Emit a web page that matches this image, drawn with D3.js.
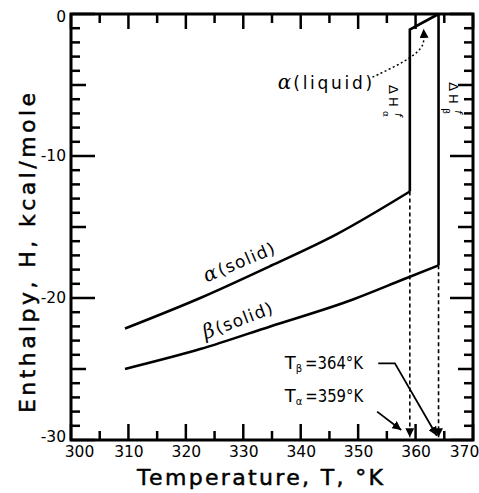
<!DOCTYPE html>
<html><head><meta charset="utf-8">
<script src="https://cdn.jsdelivr.net/npm/d3@7"></script>
<style>body{margin:0;background:#fff}text{font-family:"DejaVu Sans",sans-serif;fill:#000}</style>
</head><body>
<svg id="c" width="479" height="493"></svg>
<script>
// ---- data ----
const alphaSolidT = [309.4, 322.5, 334.7, 346.3, 359.0];
const alphaSolidH = [-22.15, -20.0, -17.75, -15.5, -12.5];
const betaSolidT  = [309.4, 322.5, 334.7, 349.1, 357.8, 364.0];
const betaSolidH  = [-25.0, -23.6, -22.0, -20.1, -18.7, -17.7];
const alphaLiquidT = [359.0, 364.0];
const alphaLiquidH = [-1.1, 0.0];
const meltAlpha = 359, meltBeta = 364;
const xMajor = [300, 310, 320, 330, 340, 350, 360, 370];
const xMinor = [305, 315, 325, 335, 345, 355, 365];
const yMajor = [0, -10, -20, -30];
const yMid = [-5, -15, -25];
const yMinor = d3.range(-29, 0).filter(v => v % 5 !== 0);
const xTickLabels = ["300","310","320","330","340","350","360","370"];
const yTickLabels = ["0","-10","-20","-30"];

const svg = d3.select("#c");
const x = d3.scaleLinear().domain([300, 370]).range([71, 473]);
const y = d3.scaleLinear().domain([-30, 0]).range([440, 14]);
const P = (t, h) => [x(t), y(h)];

const defs = svg.append("defs");
defs.append("marker").attr("id", "ah").attr("viewBox", "0 0 10 10").attr("refX", 10).attr("refY", 5)
  .attr("markerWidth", 9).attr("markerHeight", 9).attr("markerUnits", "userSpaceOnUse").attr("orient", "auto")
  .append("path").attr("d", "M0,0 L10,5 L0,10 Z").attr("fill", "#000");
defs.append("marker").attr("id", "ahBig").attr("viewBox", "0 0 10 10").attr("refX", 10).attr("refY", 5)
  .attr("markerWidth", 12).attr("markerHeight", 9).attr("markerUnits", "userSpaceOnUse").attr("orient", "auto")
  .append("path").attr("d", "M0,0 L10,5 L0,10 Z").attr("fill", "#000");

// frame and inward tick marks
const L = x(300), R = x(370), T = y(0), B = y(-30);
const tickG = svg.append("g").attr("class", "frame");
tickG.append("rect").attr("x", L).attr("y", T).attr("width", R - L).attr("height", B - T)
  .attr("fill", "none").attr("stroke", "#000").attr("stroke-width", 3);
const segs = [];
xMajor.forEach(v => { segs.push([x(v), B, x(v), B - 16]); segs.push([x(v), T, x(v), T + 15]); });
xMinor.forEach(v => { segs.push([x(v), B, x(v), B - 9]); segs.push([x(v), T, x(v), T + 9]); });
yMajor.forEach(v => { segs.push([L, y(v), L + 24, y(v)]); segs.push([R, y(v), R - 23, y(v)]); });
yMid.forEach(v => { segs.push([L, y(v), L + 15, y(v)]); segs.push([R, y(v), R - 15, y(v)]); });
yMinor.forEach(v => { segs.push([L, y(v), L + 9, y(v)]); segs.push([R, y(v), R - 9, y(v)]); });
tickG.selectAll("line.tk").data(segs).enter().append("line").attr("class", "tk")
  .attr("x1", s => s[0]).attr("y1", s => s[1]).attr("x2", s => s[2]).attr("y2", s => s[3])
  .style("stroke", "black").style("stroke-width", "2.5px");

// tick labels via d3 axes
const bottomAx = svg.append("g").attr("transform", `translate(0,${B})`)
  .call(d3.axisBottom(x).tickValues(xMajor).tickSize(0).tickPadding(6).tickFormat((d, i) => xTickLabels[i]));
bottomAx.select(".domain").remove();
bottomAx.selectAll("text").attr("font-size", 15.5).attr("font-family", "DejaVu Sans");
bottomAx.selectAll(".tick").filter(d => d === 300).select("text").attr("dx", 8);
bottomAx.selectAll(".tick").filter(d => d === 370).select("text").attr("dx", -9);

const leftAx = svg.append("g").attr("transform", `translate(${L - 2},0)`)
  .call(d3.axisLeft(y).tickValues(yMajor).tickSize(0).tickPadding(3).tickFormat((d, i) => yTickLabels[i]));
leftAx.select(".domain").remove();
leftAx.selectAll("text").attr("font-size", 15.5).attr("font-family", "DejaVu Sans");
leftAx.selectAll(".tick").filter(d => d === -30).select("text").attr("dy", "0.1em");
leftAx.selectAll(".tick").filter(d => d === 0).select("text").attr("dy", "0.5em");

// curves
const line = d3.line().x(d => x(d[0])).y(d => y(d[1])).curve(d3.curveMonotoneX);
const lin = d3.line().x(d => x(d[0])).y(d => y(d[1]));
const alphaSolid = alphaSolidT.map((t, i) => [t, alphaSolidH[i]]);
const betaSolid = betaSolidT.map((t, i) => [t, betaSolidH[i]]);
svg.append("path").attr("d", line(alphaSolid)).attr("fill", "none").attr("stroke", "#000").attr("stroke-width", 2.6);
svg.append("path").attr("d", line(betaSolid)).attr("fill", "none").attr("stroke", "#000").attr("stroke-width", 2.6);
svg.append("path").attr("d", lin([[meltAlpha, alphaSolidH[alphaSolidH.length - 1]], [alphaLiquidT[0], alphaLiquidH[0]], [alphaLiquidT[1], alphaLiquidH[1]]]))
  .attr("fill", "none").attr("stroke", "#000").attr("stroke-width", 2.6).attr("stroke-linejoin", "miter");
svg.append("path").attr("d", lin([[meltBeta, betaSolidH[betaSolidH.length - 1]], [meltBeta, 0]]))
  .attr("fill", "none").attr("stroke", "#000").attr("stroke-width", 2.6);

// dashed drop lines
[[meltAlpha, alphaSolidH[alphaSolidH.length - 1]], [meltBeta, betaSolidH[betaSolidH.length - 1]]].forEach(([t, h]) => {
  svg.append("line").attr("x1", x(t)).attr("y1", y(h)).attr("x2", x(t)).attr("y2", y(-29.8))
    .attr("stroke", "#000").attr("stroke-width", 1.6).attr("stroke-dasharray", "4,3").attr("marker-end", "url(#ahBig)");
});

// alpha (liquid)
const lq = svg.append("text").attr("x", x(336.0)).attr("y", y(-5.3)).attr("font-size", 17);
lq.append("tspan").attr("font-size", 20).attr("font-family", "DejaVu Serif").attr("font-style", "italic").text("α");
lq.append("tspan").attr("dx", 2).attr("textLength", 79).attr("lengthAdjust", "spacing").text("(liquid)");
svg.append("path").attr("d", d3.line().curve(d3.curveBasis)([P(352.5, -4.45), P(358.5, -3.3), P(361.2, -2.4), P(361.5, -1.8), P(361.4, -1.05)]))
  .attr("fill", "none").attr("stroke", "#000").attr("stroke-width", 1.5).attr("stroke-dasharray", "2,2.5").attr("marker-end", "url(#ah)");

// solid labels
function rotLabel(t, h, ang, greek) {
  const g = svg.append("g").attr("transform", `translate(${x(t)},${y(h)}) rotate(${ang})`);
  const e = g.append("text").attr("font-size", 17);
  e.append("tspan").attr("font-size", 20).attr("font-family", "DejaVu Serif").attr("font-style", "italic").text(greek);
  e.append("tspan").attr("dx", 2).attr("textLength", 60).attr("lengthAdjust", "spacing").text("(solid)");
}
rotLabel(323.6, -18.9, -23, "α");
rotLabel(323.4, -22.9, -21, "β");

// ΔH labels (rotated)
function dH(px, hTop, sup) {
  const g = svg.append("g").attr("transform", `translate(${px},${y(hTop)}) rotate(90)`);
  g.append("text").attr("font-size", 13).attr("letter-spacing", 3).text("ΔH");
  g.append("text").attr("x", 28).attr("y", -6).attr("font-size", 10).attr("font-style", "italic").text("f");
  g.append("text").attr("x", 26).attr("y", 6).attr("font-size", 9).text(sup);
}
dH(x(meltAlpha) - 21, -5.0, "α");
dH(x(meltBeta) + 10, -4.8, "β");

// T labels
function tLabel(h, sub, s) {
  const e = svg.append("text").attr("x", x(337.2)).attr("y", y(h)).attr("font-size", 18);
  e.append("tspan").text("T");
  e.append("tspan").attr("font-size", 10).attr("dy", 3).text(sub);
  e.append("tspan").attr("dy", -3).attr("dx", 3).attr("textLength", 58).attr("lengthAdjust", "spacingAndGlyphs").text(s);
}
tLabel(-25.0, "β", "=364°K");
tLabel(-27.3, "α", "=359°K");
svg.append("path").attr("d", lin([[353.5, -24.6], [356.4, -24.6], [363.7, -29.7]]))
  .attr("fill", "none").attr("stroke", "#000").attr("stroke-width", 1.8).attr("marker-end", "url(#ah)");
svg.append("path").attr("d", lin([[353.3, -28.0], [357.5, -29.3]]))
  .attr("fill", "none").attr("stroke", "#000").attr("stroke-width", 1.8).attr("marker-end", "url(#ah)");

// axis titles
svg.append("text").attr("x", 260).attr("y", 485).attr("text-anchor", "middle").attr("font-size", 22)
  .attr("stroke", "#000").attr("stroke-width", 0.5)
  .attr("textLength", 246).attr("lengthAdjust", "spacing").text("Temperature, T, °K");
svg.append("text").attr("transform", "translate(35,253) rotate(-90)").attr("text-anchor", "middle").attr("font-size", 22)
  .attr("stroke", "#000").attr("stroke-width", 0.5)
  .attr("textLength", 320).attr("lengthAdjust", "spacing").text("Enthalpy, H, kcal/mole");
</script>
</body></html>
